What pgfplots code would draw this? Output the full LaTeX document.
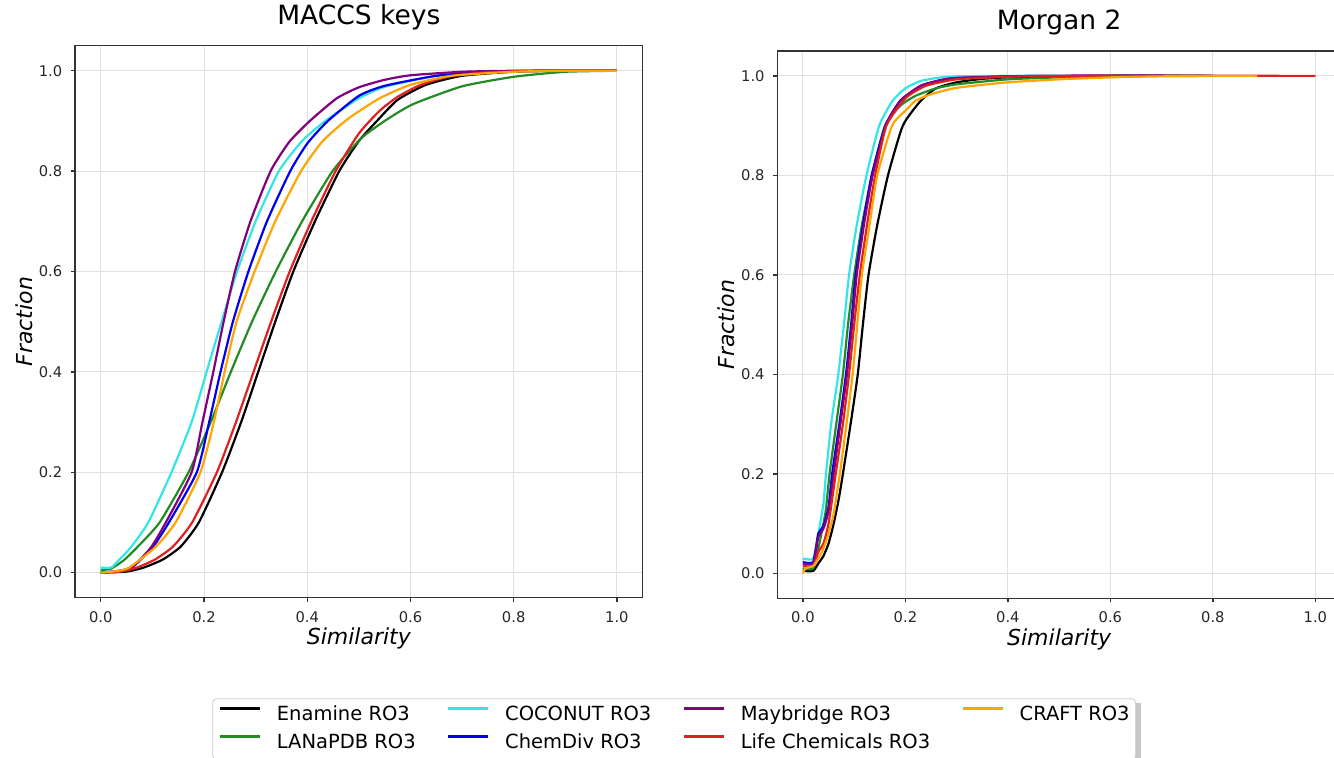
\documentclass[border=0pt]{standalone}
\usepackage{fontspec}
\setmainfont{DejaVu Sans}
\usepackage{pgfplots}
\pgfplotsset{compat=1.18}
\usetikzlibrary{backgrounds}

\definecolor{cEna}{HTML}{000000}
\definecolor{cLan}{HTML}{228B22}
\definecolor{cCoc}{HTML}{33E6E6}
\definecolor{cChe}{HTML}{0000EE}
\definecolor{cMay}{HTML}{800080}
\definecolor{cLif}{HTML}{E02020}
\definecolor{cCra}{HTML}{FFA500}

\pgfplotsset{
  enamine/.style={color=cEna, line width=1.1pt, no markers},
  lanapdb/.style={color=cLan, line width=1.1pt, no markers},
  coconut/.style={color=cCoc, line width=1.1pt, no markers},
  chemdiv/.style={color=cChe, line width=1.1pt, no markers},
  maybridge/.style={color=cMay, line width=1.1pt, no markers},
  lifechem/.style={color=cLif, line width=1.1pt, no markers},
  craft/.style={color=cCra, line width=1.1pt, no markers},
  cdfaxis/.style={
    scale only axis, anchor=south west,
    xmin=-0.05, xmax=1.05, ymin=-0.05, ymax=1.05,
    xtick={0,0.2,0.4,0.6,0.8,1.0},
    ytick={0,0.2,0.4,0.6,0.8,1.0},
    xtick pos=left, ytick pos=left, tick align=outside,
    major tick length=2pt,
    grid=major,
    major grid style={draw=black!12, line width=0.5pt},
    axis line style={draw=black!80, line width=0.65pt},
    tick style={draw=black!80, line width=0.65pt},
    /pgf/number format/fixed,
    /pgf/number format/fixed zerofill,
    /pgf/number format/precision=1,
    /pgf/number format/assume math mode=true,
    tick label style={font=\fontsize{7.35}{8}\selectfont, text=black!85},
    xticklabel style={yshift=-1.2pt},
    yticklabel style={xshift=-0.85pt},
    label style={font=\fontsize{11}{13}\selectfont\itshape},
    xlabel={Similarity}, ylabel={Fraction},
    xlabel style={at={(axis description cs:0.5,-0.0855)}, anchor=base},
    ylabel style={at={(axis description cs:-0.0757,0.5)}, anchor=base},
    title style={font=\fontsize{13.25}{15}\selectfont, at={(axis description cs:0.5,1)}, anchor=base, yshift=4.5pt},
    every axis plot/.append style={smooth, tension=0.35},
  },
}

\begin{document}
\begin{tikzpicture}
\path[use as bounding box] (0,0) rectangle (667pt,379pt);

% MACCS keys
\begin{axis}[cdfaxis, at={(37.5pt,80.15pt)}, width=283.85pt, height=276pt,
  title={MACCS keys},
  legend columns=4,
  legend cell align=left,
  legend image code/.code={\draw[#1, sharp plot] (0pt,3.3pt) -- (20pt,3.3pt);},
  legend style={name=leg, at={(axis description cs:0.2419,-0.1822)}, anchor=north west,
    font=\fontsize{9.75}{11}\selectfont, draw=black!20, fill=white, rounded corners=2pt,
    inner xsep=3pt, inner ysep=3.5pt, row sep=4.5pt,
    nodes={inner sep=0pt, text height=7.5pt, text depth=2pt},
    /tikz/every odd column/.append style={column sep=8pt},
    /tikz/every even column/.append style={column sep=15.6pt}},
]
\addplot[enamine, forget plot] coordinates {(0,0) (0.05,0.002) (0.083,0.01) (0.12,0.026) (0.155,0.052) (0.19,0.1) (0.235,0.2) (0.272,0.3) (0.305,0.4) (0.338,0.5) (0.373,0.6) (0.415,0.7) (0.462,0.8) (0.5,0.86) (0.535,0.9) (0.575,0.942) (0.63,0.972) (0.7,0.99) (0.8,0.998) (0.9,1) (1,1)};
\addplot[lanapdb, forget plot] coordinates {(0,0.005) (0.02,0.008) (0.045,0.025) (0.07,0.05) (0.114,0.1) (0.17,0.2) (0.213,0.3) (0.252,0.4) (0.293,0.5) (0.339,0.6) (0.39,0.7) (0.449,0.8) (0.504,0.865) (0.55,0.9) (0.604,0.933) (0.7,0.969) (0.8,0.988) (0.9,0.998) (1,1)};
\addplot[coconut, forget plot] coordinates {(0,0.01) (0.02,0.01) (0.035,0.025) (0.058,0.05) (0.092,0.1) (0.137,0.2) (0.176,0.3) (0.205,0.4) (0.234,0.5) (0.264,0.6) (0.3,0.7) (0.345,0.8) (0.39,0.86) (0.435,0.9) (0.5,0.945) (0.55,0.968) (0.65,0.99) (0.75,0.998) (0.85,1) (1,1)};
\addplot[chemdiv, forget plot] coordinates {(0,0) (0.03,0.003) (0.06,0.01) (0.1,0.05) (0.132,0.1) (0.186,0.2) (0.21,0.3) (0.232,0.4) (0.256,0.5) (0.286,0.6) (0.322,0.7) (0.367,0.8) (0.4,0.855) (0.44,0.9) (0.5,0.95) (0.55,0.97) (0.65,0.99) (0.75,0.998) (0.85,1) (1,1)};
\addplot[maybridge, forget plot] coordinates {(0,0) (0.03,0.002) (0.06,0.01) (0.097,0.05) (0.126,0.1) (0.176,0.2) (0.197,0.3) (0.218,0.4) (0.238,0.5) (0.26,0.6) (0.29,0.7) (0.329,0.8) (0.365,0.858) (0.405,0.9) (0.457,0.945) (0.5,0.967) (0.55,0.982) (0.6,0.991) (0.7,0.998) (0.8,1) (1,1)};
\addplot[lifechem, forget plot] coordinates {(0,0) (0.04,0.002) (0.07,0.01) (0.105,0.026) (0.14,0.052) (0.177,0.1) (0.225,0.2) (0.262,0.3) (0.296,0.4) (0.33,0.5) (0.366,0.6) (0.408,0.7) (0.455,0.8) (0.5,0.875) (0.54,0.92) (0.575,0.948) (0.62,0.972) (0.68,0.99) (0.75,0.997) (0.85,1) (1,1)};
\addplot[craft, forget plot] coordinates {(0,0) (0.03,0.003) (0.055,0.01) (0.105,0.05) (0.145,0.1) (0.193,0.2) (0.219,0.3) (0.24,0.4) (0.263,0.5) (0.298,0.6) (0.338,0.7) (0.388,0.8) (0.43,0.86) (0.48,0.905) (0.54,0.945) (0.6,0.972) (0.68,0.99) (0.8,0.998) (0.9,1) (1,1)};
\addlegendimage{enamine}
\addlegendimage{coconut}
\addlegendimage{maybridge}
\addlegendimage{craft}
\addlegendimage{lanapdb}
\addlegendimage{chemdiv}
\addlegendimage{lifechem}
\legend{Enamine RO3, COCONUT RO3, Maybridge RO3, CRAFT RO3, LANaPDB RO3, ChemDiv RO3, Life Chemicals RO3}
\end{axis}

% Morgan 2
\begin{axis}[cdfaxis, at={(388.65pt,79.85pt)}, width=281.85pt, height=273.65pt,
  title={Morgan 2}]
\addplot[enamine] coordinates {(0,0.005) (0.02,0.005) (0.03,0.02) (0.04,0.035) (0.05,0.06) (0.06,0.1) (0.07,0.15) (0.078,0.2) (0.093,0.3) (0.107,0.4) (0.117,0.5) (0.128,0.6) (0.145,0.7) (0.166,0.8) (0.195,0.9) (0.23,0.95) (0.26,0.975) (0.3,0.987) (0.35,0.994) (0.4,0.997) (0.5,0.999) (0.6,1) (0.8,1)};
\addplot[lanapdb] coordinates {(0,0.01) (0.02,0.01) (0.03,0.05) (0.04,0.1) (0.045,0.13) (0.052,0.2) (0.065,0.3) (0.078,0.4) (0.088,0.5) (0.1,0.6) (0.115,0.7) (0.135,0.8) (0.16,0.9) (0.19,0.94) (0.22,0.96) (0.26,0.975) (0.3,0.983) (0.4,0.993) (0.5,0.997) (0.6,1) (0.8,1)};
\addplot[coconut] coordinates {(0,0.03) (0.02,0.03) (0.03,0.08) (0.04,0.14) (0.045,0.2) (0.055,0.3) (0.069,0.4) (0.08,0.5) (0.09,0.6) (0.105,0.7) (0.124,0.8) (0.149,0.9) (0.175,0.95) (0.2,0.975) (0.23,0.99) (0.27,0.997) (0.3,0.999) (0.4,1) (0.6,1)};
\addplot[chemdiv] coordinates {(0,0.023) (0.02,0.023) (0.03,0.08) (0.04,0.095) (0.05,0.134) (0.057,0.2) (0.071,0.3) (0.084,0.4) (0.094,0.5) (0.103,0.6) (0.117,0.7) (0.134,0.8) (0.161,0.9) (0.19,0.95) (0.23,0.98) (0.27,0.991) (0.3,0.995) (0.4,0.999) (0.5,1) (0.8,1)};
\addplot[maybridge] coordinates {(0,0.02) (0.02,0.02) (0.03,0.073) (0.04,0.09) (0.05,0.125) (0.06,0.2) (0.073,0.3) (0.086,0.4) (0.096,0.5) (0.105,0.6) (0.119,0.7) (0.136,0.8) (0.162,0.9) (0.19,0.95) (0.23,0.98) (0.27,0.992) (0.3,0.996) (0.4,0.999) (0.5,1) (0.8,1)};
\addplot[lifechem] coordinates {(0,0.015) (0.02,0.015) (0.03,0.043) (0.04,0.06) (0.05,0.1) (0.064,0.2) (0.078,0.3) (0.09,0.4) (0.1,0.5) (0.111,0.6) (0.125,0.7) (0.141,0.8) (0.163,0.9) (0.2,0.955) (0.24,0.98) (0.3,0.993) (0.4,0.998) (0.5,1) (1,1)};
\addplot[craft] coordinates {(0,0) (0.005,0.01) (0.02,0.015) (0.03,0.03) (0.04,0.05) (0.05,0.08) (0.06,0.12) (0.072,0.2) (0.085,0.3) (0.097,0.4) (0.106,0.5) (0.115,0.6) (0.13,0.7) (0.145,0.8) (0.174,0.9) (0.2,0.93) (0.22,0.95) (0.25,0.963) (0.3,0.976) (0.4,0.987) (0.5,0.993) (0.6,0.997) (0.7,0.999) (0.887,1)};
\end{axis}

\begin{scope}[on background layer]
\fill[black!22] ([shift={(2.5pt,-2.5pt)}]leg.south west) rectangle ([shift={(2.5pt,-2.5pt)}]leg.north east);
\end{scope}
\end{tikzpicture}
\end{document}
